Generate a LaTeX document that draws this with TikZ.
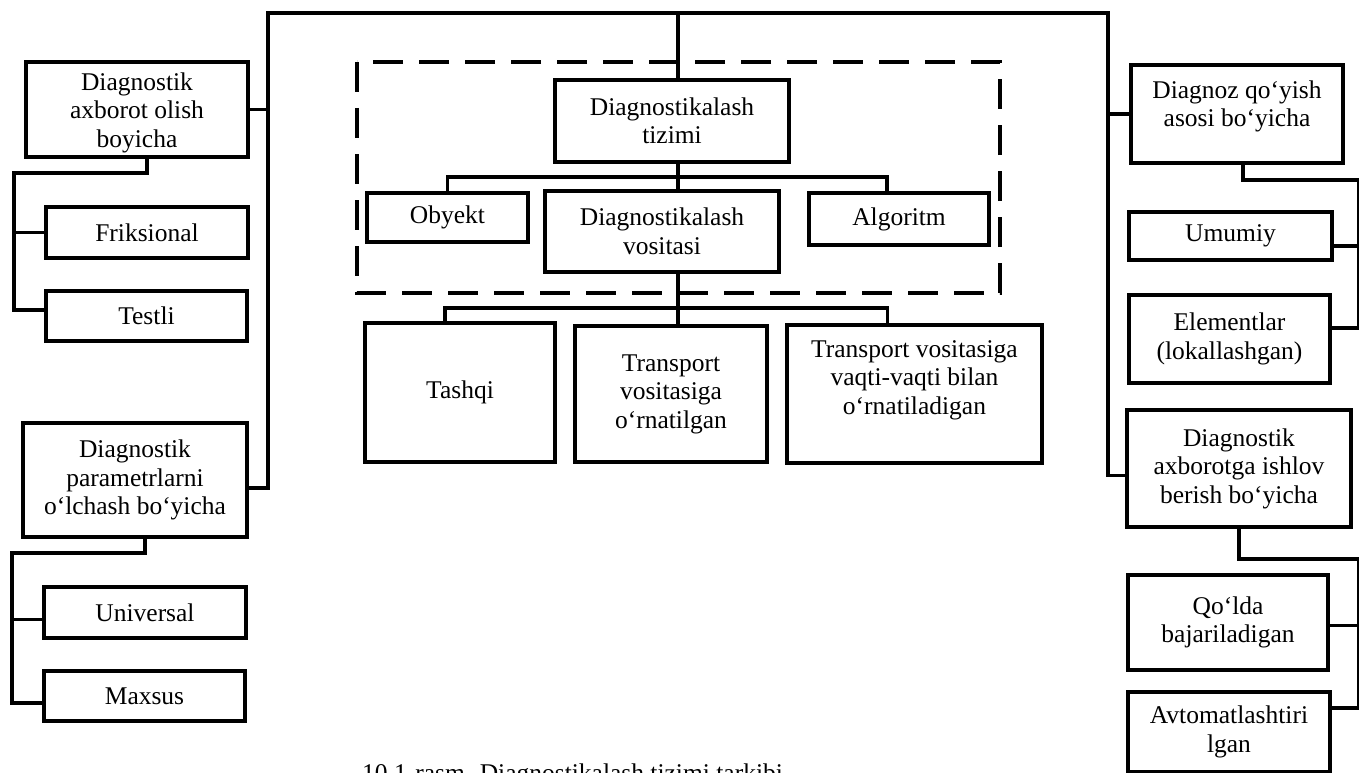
\documentclass[tikz,border=0pt]{standalone}
\usepackage{fontspec}
\setmainfont{Liberation Serif}
\begin{document}
\begin{tikzpicture}[x=1pt,y=-1pt,
  box/.style={draw, line width=3.6pt, rectangle, inner sep=0pt, align=center,
    font=\fontsize{25.5}{28.5}\selectfont},
  txt/.style={inner sep=0pt, align=center, font=\fontsize{25.5}{28.5}\selectfont},
  link/.style={line width=3.4pt, line cap=rect},
  frame/.style={line width=4.8pt, dash pattern=on 30pt off 16pt}]
\useasboundingbox (0,0) rectangle (1359,773);

% ---------- left column ----------
\node[box, minimum width=222pt, minimum height=95pt] (L1) at (137,109.5) {};
\node[txt] (L1t) at ([yshift=-3pt]L1.center) {Diagnostik\\axborot olish\\boyicha};
\node[box, minimum width=202pt, minimum height=51pt] (F1) at (147,232.5) {Friksional};
\node[box, minimum width=201pt, minimum height=50pt] (T1) at (146.5,316) {Testli};
\node[box, minimum width=224pt, minimum height=114pt] (L2) at (135,480) {Diagnostik\\parametrlarni\\o‘lchash bo‘yicha};
\node[box, minimum width=202pt, minimum height=51pt] (U1) at (145,612.5) {Universal};
\node[box, minimum width=201pt, minimum height=50pt] (M1) at (144.5,696) {Maxsus};

% ---------- centre ----------
\draw[frame] (357,62) rectangle (1000,293);
\node[box, minimum width=234pt, minimum height=82pt] (sys) at (672,121) {Diagnostikalash\\tizimi};
\node[box, minimum width=161pt, minimum height=49pt] (obj) at (447.5,217.5) {Obyekt};
\node[box, minimum width=234pt, minimum height=81pt] (vos) at (662,231.5) {Diagnostikalash\\vositasi};
\node[box, minimum width=180pt, minimum height=52pt] (alg) at (899,219) {Algoritm};
\node[box, minimum width=190pt, minimum height=139pt] (tq) at (460,392.5) {Tashqi};
\node[box, minimum width=192pt, minimum height=136pt] (t2) at (671,394) {Transport\\vositasiga\\o‘rnatilgan};
\node[box, minimum width=255pt, minimum height=138pt] (t3) at (914.5,394) {};
\node[txt, anchor=north] (t3t) at ([yshift=-17pt]t3.north) {Transport vositasiga\\vaqti-vaqti bilan\\o‘rnatiladigan};

% ---------- right column ----------
\node[box, minimum width=212pt, minimum height=98pt] (R1) at (1237,114) {};
\node[txt, anchor=north] (R1t) at ([yshift=-17pt]R1.north) {Diagnoz qo‘yish\\asosi bo‘yicha};
\node[box, minimum width=203pt, minimum height=48pt] (Um) at (1230.5,236) {Umumiy};
\node[box, minimum width=201pt, minimum height=88pt] (El) at (1229.5,339) {Elementlar\\(lokallashgan)};
\node[box, minimum width=224pt, minimum height=117pt] (R3) at (1239,468.5) {Diagnostik\\axborotga ishlov\\berish bo‘yicha};
\node[box, minimum width=200pt, minimum height=95pt] (Q1) at (1228,622.5) {Qo‘lda\\bajariladigan};
\node[box, minimum width=202pt, minimum height=80pt] (Av) at (1229,732) {Avtomatlashtiri\\lgan};

% ---------- attachment points ----------
\coordinate (L2e) at ([yshift=-8pt]L2.east);
\coordinate (R3w) at ([yshift=-7pt]R3.west);
\coordinate (L1s) at ([xshift=10pt]L1.south);
\coordinate (L2s) at ([xshift=10pt]L2.south);
\coordinate (U1w) at ([yshift=-7pt]U1.west);
\coordinate (M1w) at ([yshift=-7pt]M1.west);
\coordinate (T1w) at ([yshift=6pt]T1.west);
\coordinate (algn) at ([xshift=-12pt]alg.north);
\coordinate (tqn) at ([xshift=-15pt]tq.north);
\coordinate (t3n) at ([xshift=-27pt]t3.north);
\coordinate (R1s) at ([xshift=6pt]R1.south);
\coordinate (Ume) at ([yshift=-10pt]Um.east);
\coordinate (Ele) at ([yshift=11pt]El.east);
\coordinate (Q1e) at ([yshift=-3pt]Q1.east);
\coordinate (Ave) at ([yshift=24pt]Av.east);

% ---------- top bus ----------
\coordinate (tl) at (268,13);
\coordinate (tc) at (678,13);
\coordinate (tr) at (1108,13);
\draw[link] (tl) -- (tr);
\draw[link] (tc) -- (tc |- sys.north);
\draw[link] (L1.east) -- (tl |- L1.east);
\draw[link] (tl) |- (L2e);
\draw[link] (R1.west) -- (tr |- R1.west);
\draw[link] (tr) |- (R3w);

% ---------- left branches ----------
\coordinate (ls1) at (14,173);
\draw[link] (L1s) |- (ls1) |- (T1w);
\draw[link] (ls1 |- F1.west) -- (F1.west);
\coordinate (ls2) at (12,553);
\draw[link] (L2s) |- (ls2) |- (M1w);
\draw[link] (ls2 |- U1w) -- (U1w);

% ---------- centre branches ----------
\coordinate (b1) at (678,177);
\draw[link] (sys.south -| b1) -- (b1 |- vos.north);
\draw[link] (obj.north) |- (b1) -| (algn);
\coordinate (b2) at (678,308);
\draw[link] (vos.south -| b2) -- (b2 |- t2.north);
\draw[link] (tqn) |- (b2) -| (t3n);

% ---------- right branches ----------
\coordinate (rs1) at (1358.5,180);
\draw[link] (R1s) |- (rs1) -- (rs1 |- Ele);
\draw[link] (Ume) -- (rs1 |- Ume);
\draw[link] (Ele) -- (rs1 |- Ele);
\coordinate (rs2) at (1358.5,559);
\draw[link] (R3.south) |- (rs2) -- (rs2 |- Ave);
\draw[link] (Q1e) -- (rs2 |- Q1e);
\draw[link] (Ave) -- (rs2 |- Ave);

% ---------- caption (runs off the lower edge) ----------
\begin{scope}
\clip (0,0) rectangle (1359,773);
\node[txt, anchor=north west] (cap) at (362,764) {10.1-rasm. Diagnostikalash tizimi tarkibi};
\end{scope}
\end{tikzpicture}
\end{document}
